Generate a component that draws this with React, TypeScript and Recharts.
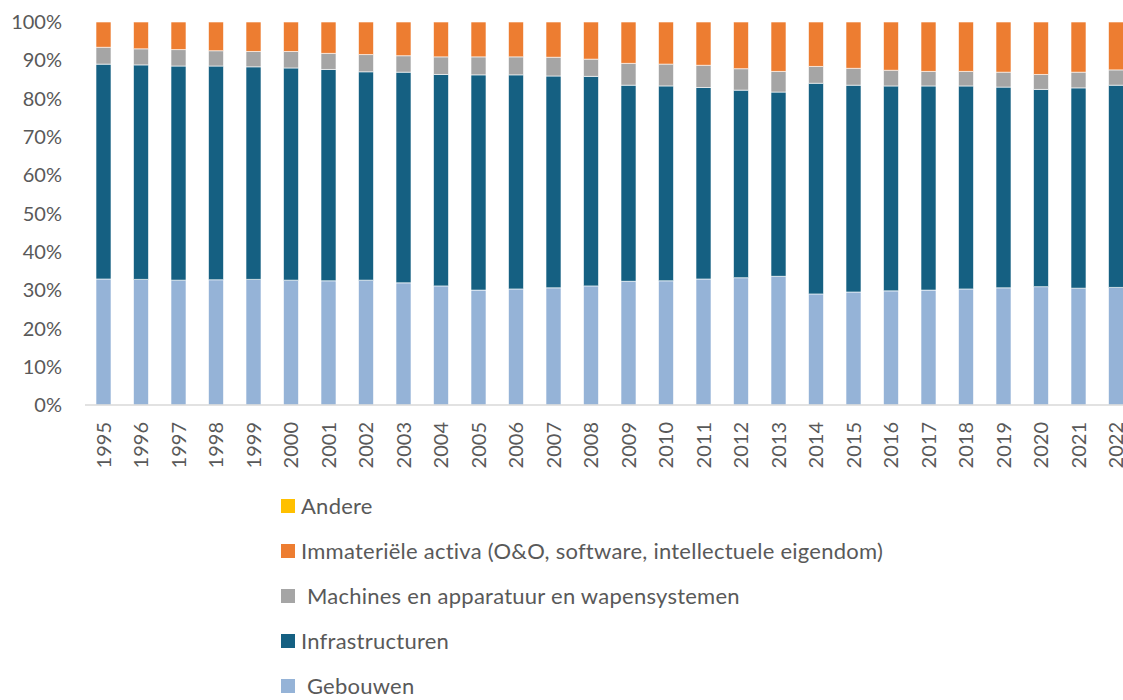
import React from "react"
import { BarChart, Bar, XAxis, YAxis } from "recharts"

const years = [
  "1995", "1996", "1997", "1998", "1999", "2000", "2001", "2002", "2003", "2004",
  "2005", "2006", "2007", "2008", "2009", "2010", "2011", "2012", "2013", "2014",
  "2015", "2016", "2017", "2018", "2019", "2020", "2021", "2022",
]

const gebouwen = [
  32.9, 32.8, 32.6, 32.7, 32.8, 32.6, 32.45, 32.6, 31.9, 31.1,
  30.0, 30.3, 30.6, 31.1, 32.3, 32.45, 32.9, 33.25, 33.6, 29.0,
  29.5, 29.8, 30.0, 30.3, 30.6, 30.9, 30.5, 30.7,
]
const infrastructuren = [
  56.1, 56.0, 55.9, 55.8, 55.5, 55.4, 55.2, 54.4, 55.0, 55.2,
  56.2, 55.9, 55.3, 54.7, 51.2, 50.9, 50.0, 49.0, 48.1, 55.0,
  54.0, 53.5, 53.3, 53.0, 52.4, 51.5, 52.3, 52.8,
]
const machines = [
  4.4, 4.2, 4.3, 4.0, 4.0, 4.3, 4.2, 4.5, 4.3, 4.6,
  4.7, 4.7, 4.9, 4.5, 5.7, 5.7, 5.8, 5.6, 5.4, 4.4,
  4.4, 4.1, 3.8, 3.8, 3.9, 3.9, 4.1, 4.0,
]
const immaterieel = [
  6.6, 7.0, 7.2, 7.5, 7.7, 7.7, 8.2, 8.5, 8.8, 9.1,
  9.1, 9.1, 9.2, 9.7, 10.8, 11.0, 11.3, 12.2, 12.9, 11.6,
  12.1, 12.6, 12.9, 12.9, 13.1, 13.7, 13.1, 12.5,
]
const andere = years.map(() => 0)

const yTicks = [0, 0.1, 0.2, 0.3, 0.4, 0.5, 0.6, 0.7, 0.8, 0.9, 1]

// stacking order, bottom to top
const series = [
  { key: "gebouwen", name: " Gebouwen", color: "#95B3D7" },
  { key: "infrastructuren", name: "Infrastructuren", color: "#156082" },
  { key: "machines", name: " Machines en apparatuur en wapensystemen", color: "#A5A5A5" },
  { key: "immaterieel", name: "Immateriële activa (O&O, software, intellectuele eigendom)", color: "#ED7D31" },
  { key: "andere", name: "Andere", color: "#FFC000" },
]

const data = years.map((year, i) => ({
  year,
  gebouwen: gebouwen[i],
  infrastructuren: infrastructuren[i],
  machines: machines[i],
  immaterieel: immaterieel[i],
  andere: andere[i],
}))

const FONT = "Lato, 'Open Sans', sans-serif"
const TEXT = "#595959"

function YearTick(props: any) {
  const { x, y, payload } = props
  return (
    <g transform={`translate(${x},${y + 17}) rotate(-90)`}>
      <text textAnchor="end" dy="0.35em" fill={TEXT} fontSize={20} fontFamily={FONT}>
        {payload.value}
      </text>
    </g>
  )
}

export default function App() {
  return (
    <div style={{ position: "absolute", left: 0, top: 0, width: 1123, height: 700, overflow: "hidden", background: "#fff" }}>
      <BarChart
        width={1135}
        height={700}
        data={data}
        stackOffset="expand"
        barSize={15}
        margin={{ top: 22, right: 0, bottom: 0, left: 0 }}
      >
        <XAxis
          dataKey="year"
          interval={0}
          height={295}
          tickLine={false}
          tickSize={0}
          tickMargin={0}
          axisLine={{ stroke: "#D9D9D9", strokeWidth: 1.5 }}
          tick={<YearTick />}
        />
        <YAxis
          width={85}
          domain={[0, 1]}
          ticks={yTicks}
          axisLine={false}
          tickLine={false}
          tickSize={0}
          tickMargin={23}
          tickFormatter={(v: number) => `${Math.round(v * 100)}%`}
          tick={{ fill: TEXT, fontSize: 20, fontFamily: FONT }}
        />
        {series.map((s) => (
          <Bar
            key={s.key}
            dataKey={s.key}
            name={s.name}
            stackId="a"
            fill={s.color}
            stroke="#ffffff"
            strokeWidth={0.6}
            isAnimationActive={false}
          />
        ))}
      </BarChart>
      <div style={{ position: "absolute", left: 281, top: 483, fontFamily: FONT, fontSize: 22, letterSpacing: 0.25, color: TEXT }}>
        {[...series].reverse().map((s) => (
          <div key={s.key} style={{ height: 45, display: "flex", alignItems: "center" }}>
            <span style={{ width: 14, height: 14, background: s.color, marginRight: 6, display: "inline-block", flex: "none" }} />
            <span style={{ whiteSpace: "pre" }}>{s.name}</span>
          </div>
        ))}
      </div>
    </div>
  )
}
